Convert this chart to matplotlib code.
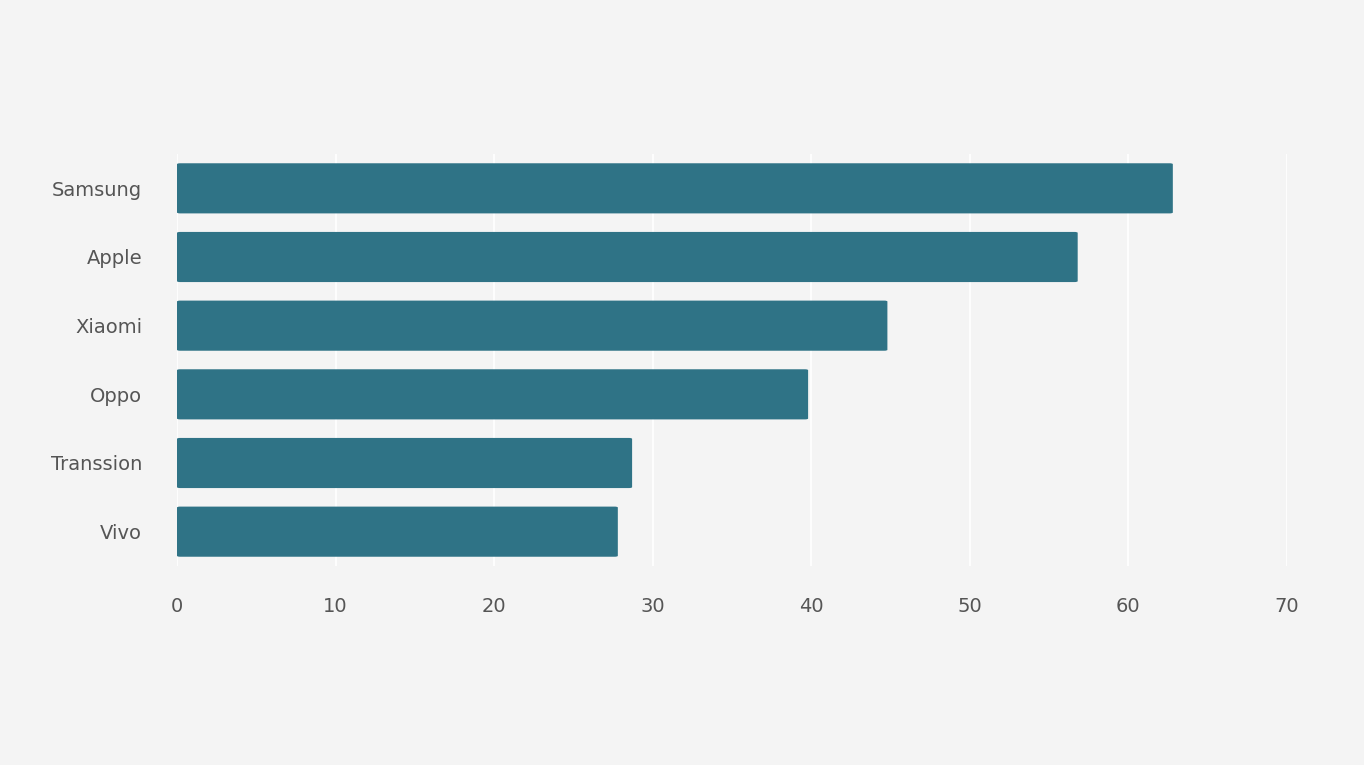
import matplotlib.pyplot as plt
from matplotlib.patches import FancyBboxPatch

brands = ['Samsung', 'Apple', 'Xiaomi', 'Oppo', 'Transsion', 'Vivo']
shipments = [62.8, 56.8, 44.8, 39.8, 28.7, 27.8]
xticks = [0, 10, 20, 30, 40, 50, 60, 70]

bg = '#f4f4f4'
bar_color = '#2f7386'

fig = plt.figure(figsize=(13.64, 7.65), dpi=100, facecolor=bg)
ax = fig.add_axes([177 / 1364, 1 - 566 / 765, 1110 / 1364, 412 / 765])
ax.set_facecolor(bg)

ypos = list(range(len(brands)))
for y, v in zip(ypos, shipments):
    ax.add_patch(FancyBboxPatch((0, y - 0.365), v, 0.73,
                                boxstyle='round,pad=0,rounding_size=0.2',
                                mutation_aspect=1 / 15,
                                facecolor=bar_color, edgecolor='none', zorder=3))

ax.set_xlim(0, 70)
ax.set_ylim(len(brands) - 0.5, -0.5)
ax.set_xticks(xticks)
ax.set_xticklabels([str(t) for t in xticks])
ax.set_yticks(ypos)
ax.set_yticklabels(brands)
ax.tick_params(axis='both', length=0, labelsize=14, colors='#555555')
ax.tick_params(axis='x', pad=22)
ax.tick_params(axis='y', pad=25)

ax.grid(axis='x', color='white', linewidth=1.2, zorder=0)
for s in ax.spines.values():
    s.set_visible(False)

fig.savefig('out.png', dpi=100, facecolor=bg)
